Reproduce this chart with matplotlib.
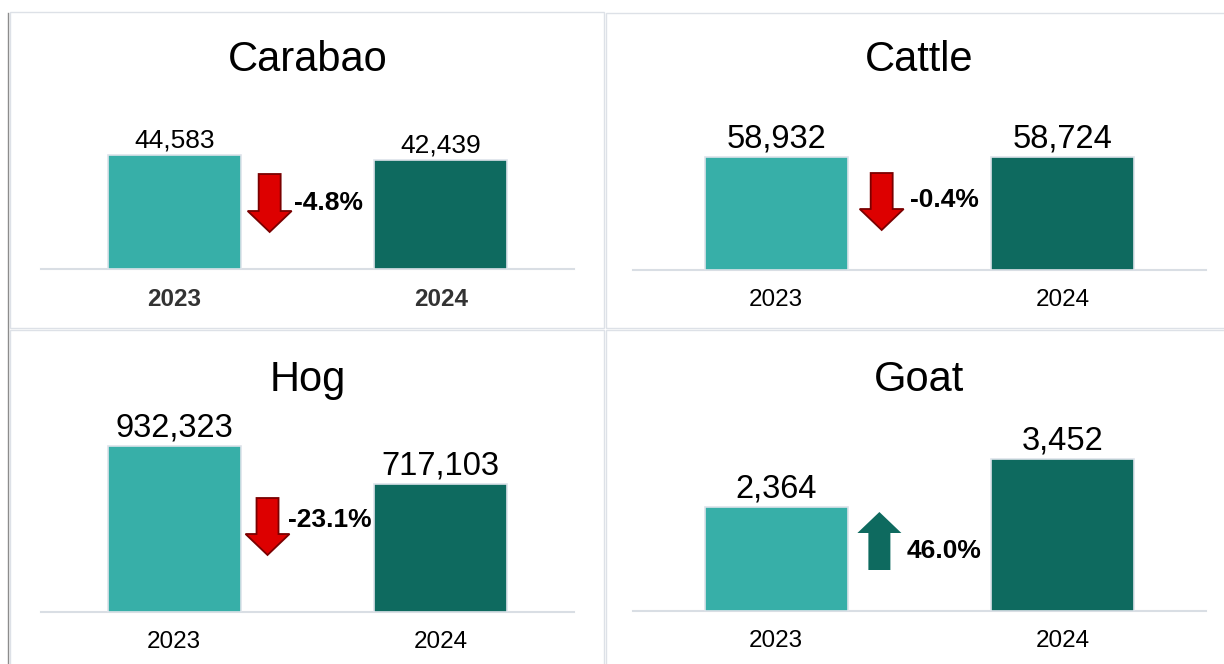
import matplotlib
matplotlib.use("Agg")
import matplotlib.pyplot as plt
from matplotlib.patches import Polygon, Rectangle
from matplotlib.lines import Line2D

plt.rcParams['font.family'] = ['Liberation Sans', 'DejaVu Sans']

# data
animals = ["Carabao", "Cattle", "Hog", "Goat"]
years = ["2023", "2024"]
values_2023 = [44583, 58932, 932323, 2364]
values_2024 = [42439, 58724, 717103, 3452]

bar_colors = ["#37AFA8", "#0E6A5F"]
grid_color = "#D9DEE4"
border_color = "#DDE1E7"

W, H = 1224, 664

# layout per panel, in pixels: (left, right, baseline, top, headroom,
#   arrow x (data), arrow tail/tip above baseline, text x (data), text y above baseline,
#   value font size, bold ticks)
layout = [
    dict(l=41, r=574, base=269, top=100, head=1.482, ax_x=0.358, a0=95, a1=37,
         tx=0.451, ty=66, vsize=19, bold=True),
    dict(l=633, r=1206, base=270, top=100, head=1.504, ax_x=0.368, a0=97, a1=40,
         tx=0.466, ty=70, vsize=23.5, bold=False),
    dict(l=41, r=574, base=612, top=420, head=1.157, ax_x=0.350, a0=114, a1=57,
         tx=0.425, ty=92, vsize=23.5, bold=False),
    dict(l=633, r=1206, base=611, top=420, head=1.257, ax_x=0.360, a0=41, a1=99,
         tx=0.455, ty=60, vsize=23.5, bold=False),
]

# panel frames (px): x0, y0, x1, y1
panels = [(10, 12, 604, 328), (606, 13, 1234, 328),
          (10, 330, 604, 674), (606, 330, 1234, 674)]


def fx(px):
    return px / W


def fy(py):
    return 1 - py / H


def block_arrow(ax, lay, up, face, edge):
    ax_w = lay['r'] - lay['l']
    ax_h = lay['base'] - lay['top']
    px_x = ax_w / 2.0  # pixels per data unit (xlim span = 2)
    hw, sw, hl = 22 / px_x, 11 / px_x, 21.0 / ax_h
    cx = lay['ax_x']
    tail = lay['a0'] / ax_h
    tip = lay['a1'] / ax_h
    d = 1 if up else -1
    neck = tip - d * hl
    verts = [(cx - sw, tail), (cx + sw, tail), (cx + sw, neck), (cx + hw, neck),
             (cx, tip), (cx - hw, neck), (cx - sw, neck)]
    ax.add_patch(Polygon(verts, closed=True, facecolor=face, edgecolor=edge,
                         lw=1.3 if edge != 'none' else 0,
                         transform=ax.get_xaxis_transform(), clip_on=False, zorder=4))


fig = plt.figure(figsize=(W / 100, H / 100), dpi=100)

for (x0, y0, x1, y1) in panels:
    fig.patches.append(Rectangle((fx(x0), fy(y1)), fx(x1 - x0), (y1 - y0) / H,
                                 transform=fig.transFigure, facecolor='none',
                                 edgecolor=border_color, lw=1.0, zorder=0))
fig.lines.append(Line2D([fx(8), fx(8)], [fy(13), fy(664)], color="#8C8C8C",
                        lw=1.0, transform=fig.transFigure))

for i, name in enumerate(animals):
    lay = layout[i]
    vals = [values_2023[i], values_2024[i]]
    ax = fig.add_axes([fx(lay['l']), fy(lay['base']),
                       fx(lay['r'] - lay['l']), (lay['base'] - lay['top']) / H])
    ax.set_zorder(2)
    ax.set_xlim(-0.5, 1.5)
    ax.set_ylim(0, max(vals) * lay['head'])
    bars = ax.bar([0, 1], vals, width=0.5, color=bar_colors,
                  edgecolor="#DDE3EA", lw=1.2, zorder=3)

    for b, v in zip(bars, vals):
        ax.annotate(f"{v:,}", (b.get_x() + b.get_width() / 2, v),
                    xytext=(0, 2), textcoords='offset points',
                    ha='center', va='bottom', fontsize=lay['vsize'], color='black')

    ax.set_xticks([0, 1])
    ax.set_xticklabels(years, fontsize=17.5,
                       fontweight='bold' if lay['bold'] else 'normal',
                       color='#333333' if lay['bold'] else 'black')
    ax.tick_params(axis='x', length=0, pad=14)
    ax.set_yticks([])
    for s in ['top', 'right', 'left']:
        ax.spines[s].set_visible(False)
    ax.spines['bottom'].set_color(grid_color)
    ax.spines['bottom'].set_linewidth(1.5)
    ax.patch.set_alpha(0)

    change = (vals[1] - vals[0]) / vals[0] * 100
    up = change > 0
    if up:
        block_arrow(ax, lay, True, bar_colors[1], 'none')
    else:
        block_arrow(ax, lay, False, "#DD0000", "#7A0000")
    ax.text(lay['tx'], lay['ty'] / (lay['base'] - lay['top']), f"{change:.1f}%",
            transform=ax.get_xaxis_transform(), ha='left', va='center',
            fontsize=19, fontweight='bold', color='black', zorder=5)

    fig.text(fx((lay['l'] + lay['r']) / 2), fy(lay['top'] - 40), name,
             ha='center', va='center', fontsize=30, color='black')

fig.savefig("out.png", dpi=100)
